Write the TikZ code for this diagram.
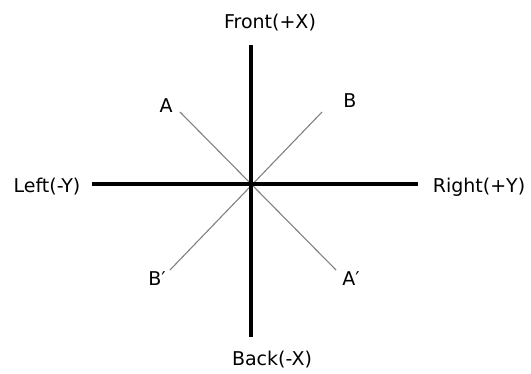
\documentclass[tikz,border=0pt]{standalone}
\usepackage{fontspec}
\setmainfont{DejaVu Sans}
\usetikzlibrary{positioning}

\begin{document}
\begin{tikzpicture}[x=1pt, y=-1pt,
    axis/.style={line width=4pt, black},
    diag/.style={line width=1.1pt, gray},
    lbl/.style={font=\fontsize{19}{22}\selectfont, inner sep=0pt}]

      % Frame of the picture
      \useasboundingbox (0,0) rectangle (531,374);

      % Centre where all lines meet
      \coordinate (o) at (251,184);

      % Ends of the two axes
      \coordinate (front) at (251,45);
      \coordinate (back) at (251,337);
      \coordinate (left) at (92,184);
      \coordinate (right) at (418,184);

      % Ends of the diagonals
      \coordinate (a) at (180,112);
      \coordinate (b) at (322,112);
      \coordinate (bp) at (170,270);
      \coordinate (ap) at (336,270);

      % Diagonals first, axes on top
      \draw[diag] (a) -- (ap);
      \draw[diag] (b) -- (bp);
      \draw[axis] (front) -- (back);
      \draw[axis] (left) -- (right);

      % Axis labels
      \node[lbl] (frontlbl) at (270,23) {Front(+X)};
      \node[lbl] (backlbl) at (272,360) {Back(-X)};
      \node[lbl] (leftlbl) at (47,187) {Left(-Y)};
      \node[lbl] (rightlbl) at (479,187) {Right(+Y)};

      % Diagonal labels
      \node[lbl] (albl) at (166,106) {A};
      \node[lbl] (blbl) at (350,101) {B};
      \node[lbl] (bplbl) at (157,279) {B′};
      \node[lbl] (aplbl) at (351,279) {A′};
    \end{tikzpicture}
\end{document}
